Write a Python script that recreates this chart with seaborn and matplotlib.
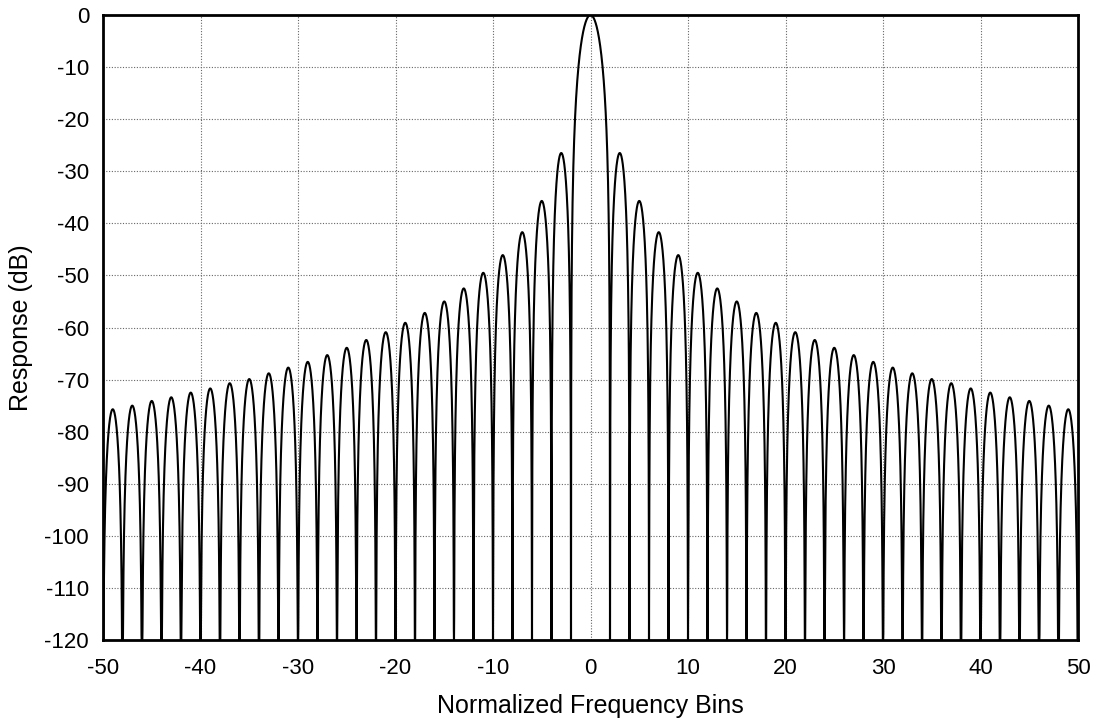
import numpy as np
import pandas as pd
import matplotlib
matplotlib.use("Agg")
import matplotlib.pyplot as plt
from matplotlib.ticker import MultipleLocator
import seaborn as sns

# %% Data (sidelobe peaks, right half; left is mirror)
lobe_bins = [3, 5, 7, 9, 11, 13, 15, 17, 19, 21, 23, 25,
             27, 29, 31, 33, 35, 37, 39, 41, 43, 45, 47, 49]
lobe_peak_db = [-26.5, -35.7, -41.7, -46.1, -49.5, -52.5, -55.0, -57.2, -59.1, -60.9, -62.4, -63.9,
                -65.3, -66.6, -67.7, -68.8, -69.9, -70.7, -71.7, -72.5, -73.4, -74.1, -75.0, -75.7]
main_lobe_peak_db = 0.0
main_lobe_nulls = [-2, 2]
floor_db = -120

x_ticks = list(range(-50, 51, 10))
y_ticks = list(range(-120, 1, 10))

# %% Build lobes: each lobe spans null-to-null around its peak
rows = []
def add_lobe(lo, hi, peak, n=120):
    u = np.linspace(0, 1, n)
    x = lo + (hi - lo) * u
    with np.errstate(divide="ignore"):
        y = peak + 40 * np.log10(np.abs(np.sin(np.pi * u)))
    y = np.clip(y, floor_db, None)
    for xi, yi in zip(x, y):
        rows.append((xi, yi))

centers = [-b for b in lobe_bins[::-1]] + [0] + lobe_bins
peaks = lobe_peak_db[::-1] + [main_lobe_peak_db] + lobe_peak_db
for c, p in zip(centers, peaks):
    if c == 0:
        add_lobe(main_lobe_nulls[0], main_lobe_nulls[1], p, n=200)
    else:
        add_lobe(c - 1, c + 1, p)

df = pd.DataFrame(rows, columns=["bin", "db"]).sort_values("bin", kind="stable")

# %% Plot
sns.set_style("white")
plt.rcParams["font.family"] = ["Liberation Sans", "DejaVu Sans"]
plt.rcParams["axes.unicode_minus"] = False
plt.rcParams["text.color"] = "black"
plt.rcParams["axes.labelcolor"] = "black"
plt.rcParams["xtick.color"] = "black"
plt.rcParams["ytick.color"] = "black"

fig = plt.figure(figsize=(10.99, 7.19), dpi=100)
ax = fig.add_axes([103 / 1099, 1 - 640 / 719, 975 / 1099, 625 / 719])

sns.lineplot(data=df, x="bin", y="db", ax=ax, color="black", lw=1.5,
             estimator=None, sort=False)

ax.set_xlim(-50, 50)
ax.set_ylim(-120, 0)
ax.set_xticks(x_ticks)
ax.set_yticks(y_ticks)
ax.xaxis.set_minor_locator(MultipleLocator(5))
ax.yaxis.set_minor_locator(MultipleLocator(5))
ax.tick_params(axis="both", which="both", direction="in", labelsize=16,
               color="black", labelcolor="black", width=1)
ax.tick_params(axis="y", which="major", length=6, pad=10)
ax.tick_params(axis="y", which="minor", length=6)
ax.tick_params(axis="x", which="major", length=3, pad=13)
ax.tick_params(axis="x", which="minor", length=5)
ax.grid(True, which="major", linestyle=(0, (1, 1.5)), color="#666666", lw=0.8)
for s in ax.spines.values():
    s.set_visible(True)
    s.set_color("black")
    s.set_linewidth(2)

ax.set_xlabel("Normalized Frequency Bins", fontsize=18, labelpad=11)
ax.set_ylabel("Response (dB)", fontsize=18, labelpad=8)

fig.savefig("out.png", dpi=100)
